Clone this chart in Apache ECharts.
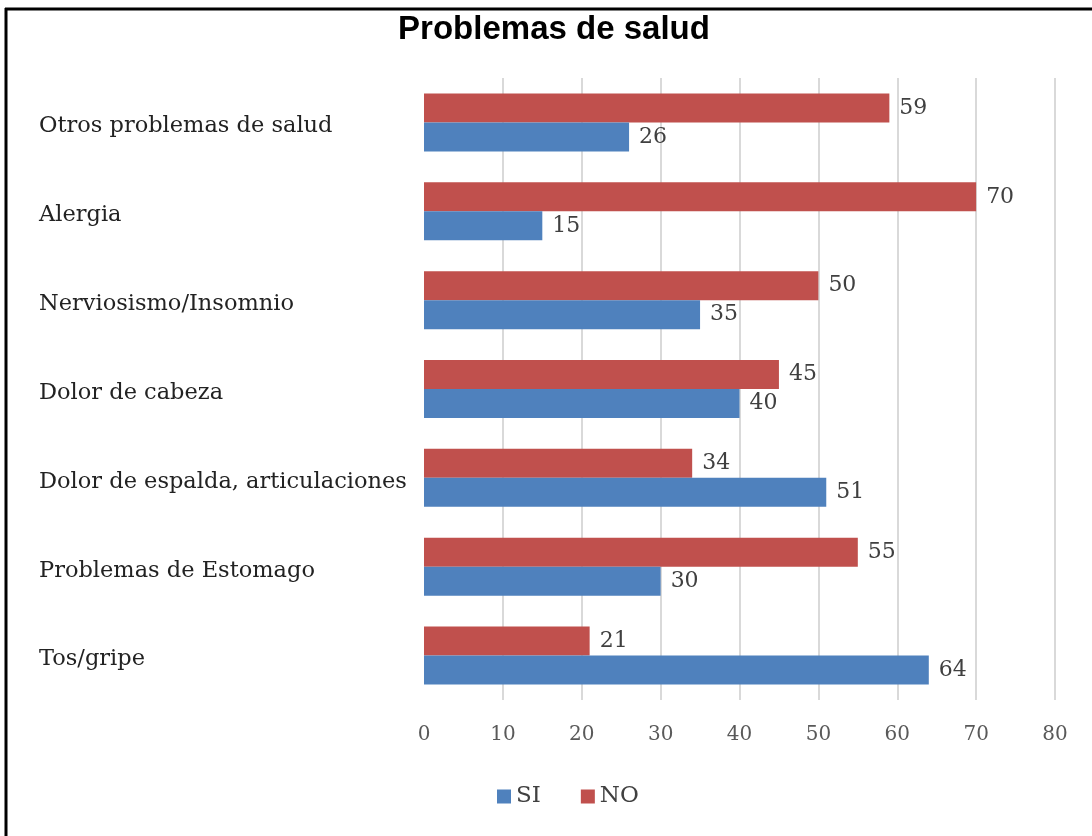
<!DOCTYPE html>
<html>
<head>
<meta charset="utf-8">
<script src="https://cdn.jsdelivr.net/npm/echarts@6/dist/echarts.min.js"></script>
<style>html,body{margin:0;padding:0;background:#fff}#c{width:1092px;height:836px}</style>
</head>
<body>
<div id="c"></div>
<script>
var categories = ["Tos/gripe", "Problemas de Estomago", "Dolor de espalda, articulaciones", "Dolor de cabeza", "Nerviosismo/Insomnio", "Alergia", "Otros problemas de salud"];
var siValues = [64, 30, 51, 40, 35, 15, 26];
var noValues = [21, 55, 34, 45, 50, 70, 59];
var xTicks = [0, 10, 20, 30, 40, 50, 60, 70, 80];

var serif = "DejaVu Serif";
var chart = echarts.init(document.getElementById('c'), null, {renderer: 'canvas'});
var labelStyle = {show: true, position: 'right', distance: 10, color: '#404040', fontFamily: serif, fontSize: 22};
chart.setOption({
  animation: false,
  backgroundColor: '#fff',
  title: {
    text: 'Problemas de salud', left: 549, textAlign: 'center', top: 8,
    textStyle: {fontFamily: 'Liberation Sans', fontWeight: 'bold', fontSize: 33, color: '#000'}
  },
  graphic: [
    {type: 'line', shape: {x1: 5, y1: 9, x2: 1092, y2: 9}, style: {stroke: '#000', lineWidth: 3}},
    {type: 'line', shape: {x1: 6, y1: 8, x2: 6, y2: 836}, style: {stroke: '#000', lineWidth: 3}}
  ],
  legend: {
    data: ['SI', 'NO'], left: 492, top: 780, itemWidth: 14, itemHeight: 14, itemGap: 40,
    icon: 'rect',
    textStyle: {fontFamily: serif, fontSize: 23, color: '#404040'}
  },
  grid: {left: 424, right: 37, top: 78, bottom: 136, containLabel: false},
  xAxis: {
    type: 'value', min: 0, max: 80, interval: 10,
    axisLine: {show: false}, axisTick: {show: false},
    splitLine: {show: true, showMinLine: false, lineStyle: {color: '#d9d9d9', width: 2}},
    axisLabel: {margin: 25, color: '#595959', fontFamily: serif, fontSize: 20,
      formatter: function (v) { return xTicks.indexOf(v) >= 0 ? String(v) : ''; }}
  },
  yAxis: {
    type: 'category', data: categories,
    axisLine: {show: false}, axisTick: {show: false}, splitLine: {show: false},
    axisLabel: {align: 'left', margin: 385,
      formatter: function (v) { return '{a|' + v + '}'; },
      rich: {a: {color: '#222', fontFamily: serif, fontSize: 22.5, padding: [8, 0, 0, 0]}}}
  },
  series: [
    {name: 'NO', type: 'bar', data: noValues, barWidth: 29, barGap: '0%', itemStyle: {color: '#C0504D'}, label: labelStyle},
    {name: 'SI', type: 'bar', data: siValues, barWidth: 29, barGap: '0%', itemStyle: {color: '#4F81BD'}, label: labelStyle}
  ]
});
</script>
</body>
</html>
